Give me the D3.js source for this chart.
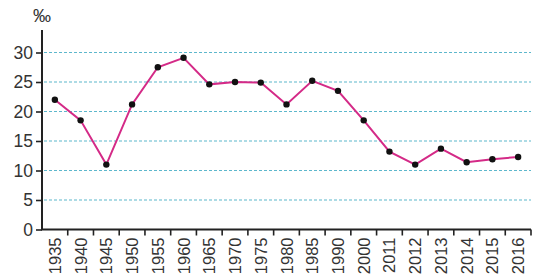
<!DOCTYPE html>
<html>
<head>
<meta charset="utf-8">
<script src="https://cdn.jsdelivr.net/npm/d3@7"></script>
<style>
  body { margin: 0; background: #fff; }
  text { font-family: "Liberation Sans", Arial, sans-serif; fill: #333; }
</style>
</head>
<body>
<svg id="chart"></svg>
<script>
// data
var years = ["1935","1940","1945","1950","1955","1960","1965","1970","1975","1980",
             "1985","1990","2000","2011","2012","2013","2014","2015","2016"];
var rates = [22.0, 18.5, 11.0, 21.2, 27.5, 29.1, 24.6, 25.0, 24.9, 21.2,
             25.2, 23.5, 18.5, 13.2, 11.0, 13.7, 11.4, 11.9, 12.3];
var yTicks = [0, 5, 10, 15, 20, 25, 30];

var width = 535,
    height = 275;

var svg = d3.select("#chart")
    .attr("width", width)
    .attr("height", height);

// scales
var x = d3.scaleBand().domain(years).range([42, 531]);
var y = d3.scaleLinear().domain([0, 30]).range([229.5, 52.5]);

// dashed grid lines
svg.append("g")
    .selectAll("line")
    .data(yTicks.filter(function(d){ return d > 0; }))
    .enter().append("line")
    .attr("x1", 44)
    .attr("x2", 531)
    .attr("y1", function(d){ return y(d); })
    .attr("y2", function(d){ return y(d); })
    .attr("style", "stroke: #5db7cc; stroke-width: 1.2; stroke-dasharray: 3,2");

// y axis
var yAxis = svg.append("g")
    .attr("transform", "translate(42,0)")
    .call(d3.axisLeft(y).tickValues(yTicks).tickSize(6).tickPadding(3));
yAxis.select(".domain").remove();
yAxis.append("line")
    .attr("x1", 0).attr("x2", 0)
    .attr("y1", 30).attr("y2", y(0))
    .attr("style", "stroke: #222; stroke-width: 2");
yAxis.selectAll(".tick line").attr("style", "stroke: #222; stroke-width: 1.6");
yAxis.selectAll(".tick text")
    .attr("style", "font-size: 17.5px; fill: #333; font-family: 'Liberation Sans', Arial, sans-serif");

// unit label
svg.append("text")
    .attr("x", 42)
    .attr("y", 22)
    .attr("text-anchor", "middle")
    .attr("style", "font-size: 18px")
    .text("‰");

// x axis with ticks between categories
var xg = svg.append("g")
    .attr("transform", "translate(0," + y(0) + ")");
xg.append("line")
    .attr("x1", 41).attr("x2", 531)
    .attr("y1", 0).attr("y2", 0)
    .attr("style", "stroke: #222; stroke-width: 2");
xg.selectAll(".sep")
    .data(years)
    .enter().append("line")
    .attr("class", "sep")
    .attr("x1", function(d){ return x(d) + x.bandwidth(); })
    .attr("x2", function(d){ return x(d) + x.bandwidth(); })
    .attr("y1", 0).attr("y2", 6)
    .attr("style", "stroke: #222; stroke-width: 1.6");
xg.selectAll(".lbl")
    .data(years)
    .enter().append("text")
    .attr("class", "lbl")
    .attr("transform", function(d){
        return "translate(" + (x(d) + x.bandwidth() / 2 + 6) + ",8) rotate(-90)";
    })
    .attr("text-anchor", "end")
    .attr("style", "font-size: 16.5px")
    .text(function(d){ return d; });

// line
var valueline = d3.line()
    .x(function(d, i){ return x(years[i]) + x.bandwidth() / 2; })
    .y(function(d){ return y(d); });

svg.append("path")
    .data([rates])
    .attr("d", valueline)
    .attr("style", "stroke: #d42a87; stroke-width: 2; fill: none");

// points
svg.selectAll(".dot")
    .data(rates)
    .enter().append("circle")
    .attr("class", "dot")
    .attr("r", 3.2)
    .attr("cx", function(d, i){ return x(years[i]) + x.bandwidth() / 2; })
    .attr("cy", function(d){ return y(d); })
    .attr("style", "fill: #111");
</script>
</body>
</html>
